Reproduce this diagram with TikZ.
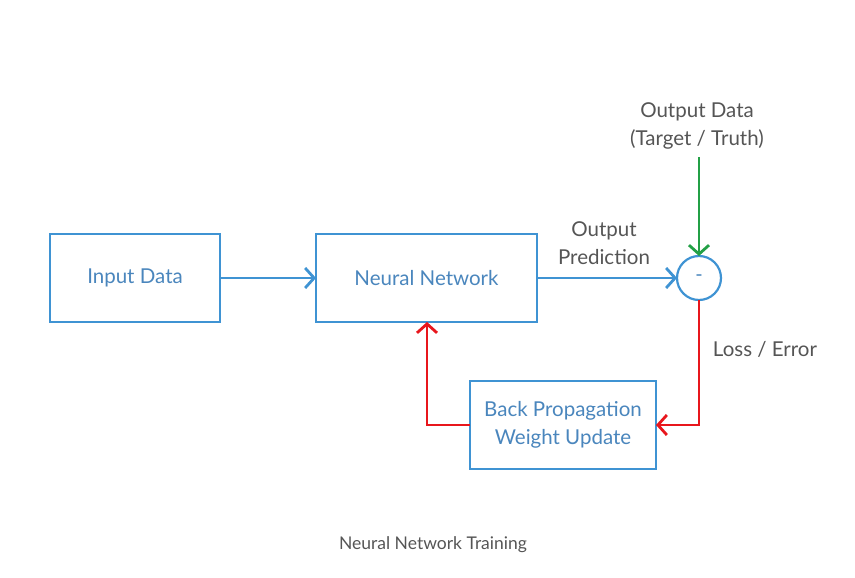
\documentclass[tikz,border=0pt]{standalone}
\usepackage{fontspec}
\setmainfont{Lato}
\usepackage{tikz}
\usetikzlibrary{arrows.meta}

\definecolor{boxblue}{HTML}{3F93D3}
\definecolor{textblue}{HTML}{4A86BD}
\definecolor{lossred}{HTML}{E8161C}
\definecolor{truegreen}{HTML}{23A046}
\definecolor{labelgray}{HTML}{555555}

\begin{document}
\begin{tikzpicture}[x=1pt,y=-1pt]
  \tikzset{BoxStyle/.style = {
    shape         = rectangle,
    draw          = boxblue,
    fill          = white,
    line width    = 2.2pt,
    text          = textblue,
    align         = center,
    inner sep     = 0pt,
    outer sep     = 0pt,
    font          = \fontsize{20.5}{28}\selectfont
    }
  }
  \tikzset{DiffStyle/.style = {
    shape         = circle,
    draw          = boxblue,
    line width    = 2.2pt,
    text          = textblue,
    inner sep     = 0pt,
    outer sep     = 0pt,
    minimum size  = 44pt,
    font          = \fontsize{20}{22}\selectfont
    }
  }
  \tikzset{LabelStyle/.style = {
    text          = labelgray,
    align         = center,
    inner sep     = 0pt,
    font          = \fontsize{20.5}{28}\selectfont
    }
  }
  \tikzset{EdgeStyle/.style = {
    draw          = boxblue,
    line width    = 2.8pt,
    -{Straight Barb[length=9pt,width=20pt,line width=2.8pt]}
    }
  }
  \tikzset{EdgeStyleLoss/.style = {
    EdgeStyle,
    draw          = lossred
    }
  }
  \tikzset{EdgeStyleTruth/.style = {
    EdgeStyle,
    draw          = truegreen
    }
  }

  \useasboundingbox (0,0) rectangle (855,578);

	\node[BoxStyle, minimum width=170pt, minimum height=88pt](input) at (135,278) {Input Data};
	\node[BoxStyle, minimum width=221pt, minimum height=88pt](net) at (426.5,278) {Neural Network};
	\node[DiffStyle](diff) at (699,278) {-};
	\node[BoxStyle, minimum width=186pt, minimum height=88pt](backprop) at (563,425) {Back Propagation\\Weight Update};

	\node[LabelStyle](truth) at (697,126) {Output Data\\(Target / Truth)};
	\node[LabelStyle](pred) at (604,243) {Output\\Prediction};
	\node[LabelStyle](loss) at (765,349) {Loss / Error};
	\node[text=labelgray, font=\fontsize{17.5}{20}\selectfont](caption) at (433,545) {Neural Network Training};

	\coordinate (truthtop) at (699,157);
	\coordinate (lossturn) at (699,425);
	\coordinate (backturn) at (427,425);

	\draw[EdgeStyle](input) -- (net);
	\draw[EdgeStyle](net) -- (diff);
	\draw[EdgeStyleTruth](truthtop) -- (diff);
	\draw[EdgeStyleLoss](diff) -- (lossturn) -- (backprop);
	\draw[EdgeStyleLoss](backprop.west) -- (backturn) -- (backturn |- net.south);

\end{tikzpicture}
\end{document}
